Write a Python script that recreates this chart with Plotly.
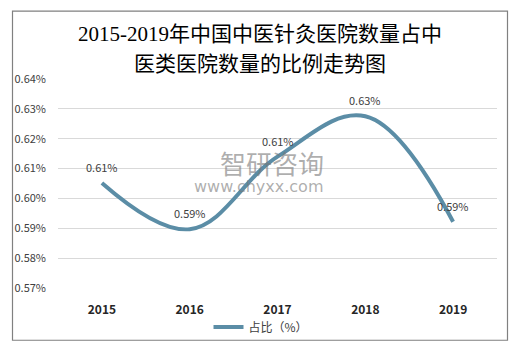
import plotly.graph_objects as go

years = ["2015", "2016", "2017", "2018", "2019"]
values = [0.6052, 0.5897, 0.614, 0.6275, 0.5922]
y_ticks = [0.57, 0.58, 0.59, 0.60, 0.61, 0.62, 0.63, 0.64]
y_tick_labels = [f"{v:.2f}%" for v in y_ticks]
series_name = "占比（%）"
title_lines = ["2015-2019年中国中医针灸医院数量占中", "医类医院数量的比例走势图"]

line_color = "#5B8DA6"
W, H = 516, 354
L, R, T, B = 58, 19, 79, 61
pw, ph = W - L - R, H - T - B

def px(x):
    return (x - L) / pw

def py(y):
    return (H - B - y) / ph

fig = go.Figure()
fig.add_trace(go.Scatter(
    x=years, y=values, mode="lines", name=series_name,
    line=dict(color=line_color, width=4, shape="spline", smoothing=1.1),
    hoverinfo="skip",
))

for i, v in enumerate(values):
    fig.add_annotation(x=i, y=v, text=f"{v:.2f}%", showarrow=False,
                       yshift=16, font=dict(size=11, color="#404040",
                                            family="Noto Sans CJK SC"))

# title (two lines)
for txt, yy in zip(title_lines, [33, 64]):
    fig.add_annotation(xref="paper", yref="paper", x=px(260), y=py(yy),
                       text=txt, showarrow=False, xanchor="center", yanchor="middle",
                       font=dict(size=21, color="#000000",
                                 family="Liberation Serif, Noto Sans CJK SC"))

# watermark
fig.add_annotation(xref="paper", yref="paper", x=px(272), y=py(165),
                   text="智研咨询", showarrow=False,
                   font=dict(size=26, color="rgba(120,120,120,0.6)", family="Noto Sans CJK SC"))
fig.add_annotation(xref="paper", yref="paper", x=px(258), y=py(189),
                   text="www.chyxx.com", showarrow=False,
                   font=dict(size=16, color="rgba(120,120,120,0.6)", family="DejaVu Sans"))

# outer border
fig.add_shape(type="rect", xref="paper", yref="paper",
              x0=px(12.5), x1=px(507.5), y0=py(346.5), y1=py(9.5),
              line=dict(color="#808080", width=1.2), fillcolor="rgba(0,0,0,0)", layer="below")

fig.update_layout(
    width=W, height=H,
    margin=dict(l=L, r=R, t=T, b=B),
    paper_bgcolor="white", plot_bgcolor="white",
    xaxis=dict(type="category", range=[-0.5, 4.5], showgrid=False, showline=False, zeroline=False,
               ticks="", tickfont=dict(size=12, color="#262626", family="Noto Sans CJK SC",
                                       weight="bold"),
               ticklabelstandoff=13),
    yaxis=dict(range=[0.57, 0.64], tickvals=y_ticks, ticktext=y_tick_labels,
               showgrid=True, gridcolor="#D9D9D9", gridwidth=1, zeroline=False,
               showline=False, ticks="", ticklabelstandoff=11,
               tickfont=dict(size=11, color="#404040", family="Noto Sans CJK SC")),
    showlegend=True,
    legend=dict(orientation="h", x=px(261), xanchor="center", y=py(333), yanchor="middle",
                font=dict(size=12, color="#404040", family="Noto Sans CJK SC"),
                itemwidth=30, bgcolor="rgba(0,0,0,0)"),
)

fig.write_html("out.html")
